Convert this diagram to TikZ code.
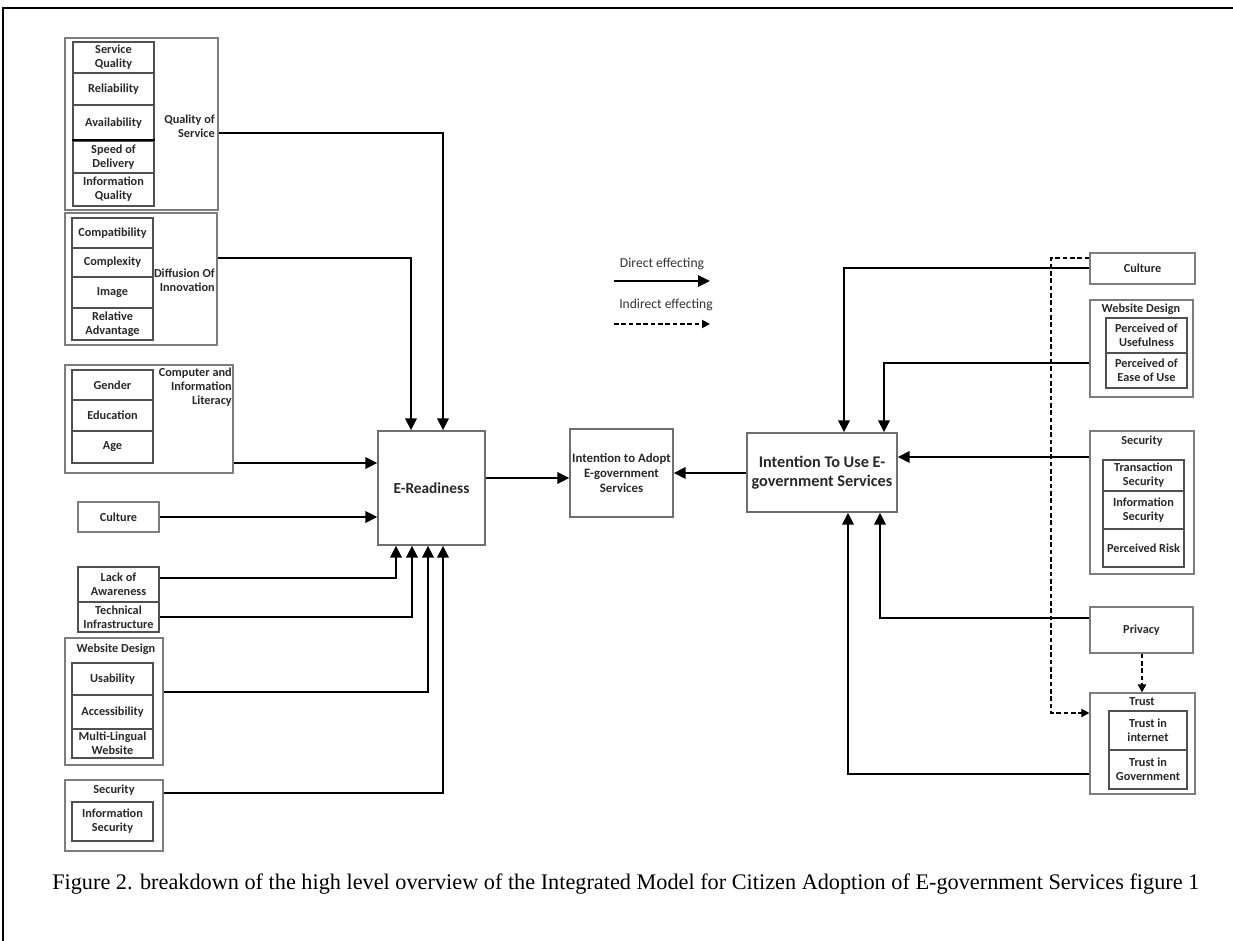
\documentclass[tikz,border=0pt]{standalone}
\usepackage{fontspec}
\setmainfont{Carlito}
\newfontfamily\capfont{Liberation Serif}
\usetikzlibrary{fit,arrows.meta}
\newcommand\cellf{\fontsize{9.2}{10.5}\selectfont\bfseries}
\begin{document}
\begin{tikzpicture}[x=0.75pt,y=-0.75pt,
  grp/.style={draw={rgb,255:red,125;green,125;blue,125}, line width=0.8pt, inner sep=0pt},
  cell/.style={draw={rgb,255:red,80;green,80;blue,80}, line width=0.8pt, inner sep=0pt},
  tx/.style={label={[lbl, align=center]center:{#1}}},
  lbl/.style={inner sep=0pt, font=\cellf, text={rgb,255:red,40;green,40;blue,40}},
  mainbox/.style={draw={rgb,255:red,110;green,110;blue,110}, line width=1pt, inner sep=0pt},
  conn/.style={line width=1.7pt, -{Triangle[length=9pt,width=8.5pt]}},
  dconn/.style={line width=1.6pt, dash pattern=on 3.5pt off 2pt, -{Triangle[length=6pt,width=6pt]}},
  legtxt/.style={inner sep=0pt, font=\fontsize{10.2}{12}\selectfont, text={rgb,255:red,50;green,50;blue,50}}
]
\useasboundingbox (0,0) rectangle (1233,941);
% frame
\coordinate (fa) at (3,941);
\coordinate (fb) at (3,8);
\coordinate (fc) at (1233,8);
\draw[line width=1.6pt] (fa) -- (fb) -- (fc);

% ---------- left: Quality of Service ----------
\node[grp, fit={(65,38)(218,210)}] (qos) {};
\node[cell, fit={(73,42)(154,73)}, tx={Service\\Quality}] (sq) {};
\node[cell, fit={(73,73)(154,105)}, tx={Reliability}] (rel) {};
\node[cell, fit={(73,105)(154,141)}, tx={Availability}] (ava) {};
\node[cell, fit={(73,141)(154,173)}, tx={Speed of\\Delivery}] (spd) {};
\node[cell, fit={(73,173)(154,206)}, tx={Information\\Quality}] (iq) {};
\draw[line width=1.5pt] (spd.north west) -- (spd.north east);
\node[lbl, anchor=east, align=right] (qosl) at (215,126) {Quality of\\Service};

% ---------- Diffusion of innovation ----------
\node[grp, fit={(65,213)(217,345)}] (dif) {};
\node[cell, fit={(72,218)(153,248)}, tx={Compatibility}] (comp) {};
\node[cell, fit={(72,248)(153,277)}, tx={Complexity}] (cplx) {};
\node[cell, fit={(72,277)(153,308)}, tx={Image}] (img) {};
\node[cell, fit={(72,308)(153,340)}, tx={Relative\\Advantage}] (radv) {};
\node[lbl, anchor=east, align=right] (difl) at (215,280) {Diffusion Of\\Innovation};

% ---------- Computer literacy ----------
\node[grp, fit={(65,365)(233,473)}] (cil) {};
\node[cell, fit={(72,370)(153,400)}, tx={Gender}] (gen) {};
\node[cell, fit={(72,400)(153,431)}, tx={Education}] (edu) {};
\node[cell, fit={(72,431)(153,463)}, tx={Age}] (age) {};
\node[lbl, anchor=north east, align=right] (cill) at (232,368) {Computer and\\Information\\Literacy};

% ---------- Culture, awareness, infrastructure ----------
\node[cell, draw={rgb,255:red,125;green,125;blue,125}, fit={(78,502)(159,532)}, tx={Culture}] (cultL) {};
\node[cell, fit={(78,567)(159,602)}, tx={Lack of\\Awareness}] (lack) {};
\node[cell, fit={(78,602)(159,632)}, tx={Technical\\Infrastructure}] (tech) {};

% ---------- Website design (left) ----------
\node[grp, fit={(65,638)(163,765)}] (wdL) {};
\node[lbl] (wdLt) at (116,649) {Website Design};
\node[cell, fit={(72,663)(153,695)}, tx={Usability}] (usa) {};
\node[cell, fit={(72,695)(153,729)}, tx={Accessibility}] (acc) {};
\node[cell, fit={(72,729)(153,758)}, tx={Multi-Lingual\\Website}] (mlw) {};

% ---------- Security (left) ----------
\node[grp, fit={(65,780)(163,851)}] (secL) {};
\node[lbl] (secLt) at (114,790) {Security};
\node[cell, fit={(72,802)(153,841)}, tx={Information\\Security}] (isL) {};

% ---------- central boxes ----------
\node[mainbox, fit={(378,431)(485,545)}, label={[lbl, font=\fontsize{11.5}{13}\selectfont\bfseries]center:E-Readiness}] (ered) {};
\node[mainbox, fit={(570,429)(673,517)}, label={[lbl, align=center, font=\fontsize{9.6}{11.2}\selectfont\bfseries]center:{Intention to Adopt\\E-government\\Services}}] (adopt) {};
\node[mainbox, fit={(747,433)(897,512)}, label={[lbl, align=center, font=\fontsize{12.2}{14.5}\selectfont\bfseries]center:{Intention To Use E-\\government Services}}] (use) {};

% ---------- right side ----------
\node[cell, draw={rgb,255:red,125;green,125;blue,125}, fit={(1090,253)(1195,284)}, tx={Culture}] (cultR) {};

\node[grp, fit={(1090,300)(1193,397)}] (wdR) {};
\node[lbl] (wdRt) at (1141,309) {Website Design};
\node[cell, fit={(1106,318)(1187,353)}, tx={Perceived of\\Usefulness}] (pu) {};
\node[cell, fit={(1106,353)(1187,388)}, tx={Perceived of\\Ease of Use}] (peou) {};

\node[grp, fit={(1090,431)(1194,574)}] (secR) {};
\node[lbl] (secRt) at (1142,441) {Security};
\node[cell, fit={(1103,460)(1184,491)}, tx={Transaction\\Security}] (ts) {};
\node[cell, fit={(1103,491)(1184,529)}, tx={Information\\Security}] (isR) {};
\node[cell, fit={(1103,529)(1184,567)}, tx={Perceived Risk}] (pr) {};

\node[cell, draw={rgb,255:red,125;green,125;blue,125}, fit={(1090,607)(1193,653)}, tx={Privacy}] (priv) {};

\node[grp, fit={(1090,693)(1195,794)}] (trust) {};
\node[lbl] (trustt) at (1142,702) {Trust};
\node[cell, fit={(1109,711)(1187,750)}, tx={Trust in\\internet}] (tint) {};
\node[cell, fit={(1109,750)(1187,789)}, tx={Trust in\\Government}] (tgov) {};

% ---------- connectors left ----------
\draw[conn] (qos.east |- 0,133) -| (ered.north -| 443,0);
\draw[conn] (dif.east |- 0,258) -| (ered.north -| 411,0);
\draw[conn] (cil.east |- 0,463) -- (ered.west |- 0,463);
\draw[conn] (cultL.east |- 0,517) -- (ered.west |- 0,517);
\draw[conn] (lack.east |- 0,578) -| (ered.south -| 396,0);
\draw[conn] (tech.east |- 0,617) -| (ered.south -| 412,0);
\draw[conn] (wdL.east |- 0,692) -| (ered.south -| 428,0);
\draw[conn] (secL.east |- 0,793) -| (ered.south -| 443,0);

% ---------- center ----------
\draw[conn] (ered.east |- 0,478) -- (adopt.west |- 0,478);
\draw[conn] (use.west |- 0,473) -- (adopt.east |- 0,473);

% ---------- connectors right ----------
\draw[conn] (cultR.west |- 0,268) -| (use.north -| 844,0);
\draw[conn] (wdR.west |- 0,363) -| (use.north -| 884,0);
\draw[conn] (secR.west |- 0,457) -- (use.east |- 0,457);
\draw[conn] (priv.west |- 0,618) -| (use.south -| 880,0);
\draw[conn] (trust.west |- 0,774) -| (use.south -| 848,0);
\coordinate (dk) at (1051,258);
\draw[dconn] (cultR.west |- 0,258) -- (dk) |- (trust.west |- 0,713);
\draw[dconn] (priv.south -| 1142,0) -- (trust.north -| 1142,0);

% ---------- legend ----------
\node[legtxt] (ldir) at (662,264) {Direct effecting};
\coordinate (la1) at (614,281);
\coordinate (la2) at (710,281);
\draw[conn, line width=1.5pt] (la1) -- (la2);
\node[legtxt] (lind) at (666,305) {Indirect effecting};
\coordinate (lb1) at (614,324);
\coordinate (lb2) at (710,324);
\draw[dconn, line width=1.4pt] (lb1) -- (lb2);

% ---------- caption ----------
\node[inner sep=0pt, anchor=west, font=\capfont\fontsize{16.7}{19}\selectfont] (cap) at (52,884) {Figure 2. breakdown of the high level overview of the Integrated Model for Citizen Adoption of E-government Services figure 1};
\end{tikzpicture}
\end{document}
